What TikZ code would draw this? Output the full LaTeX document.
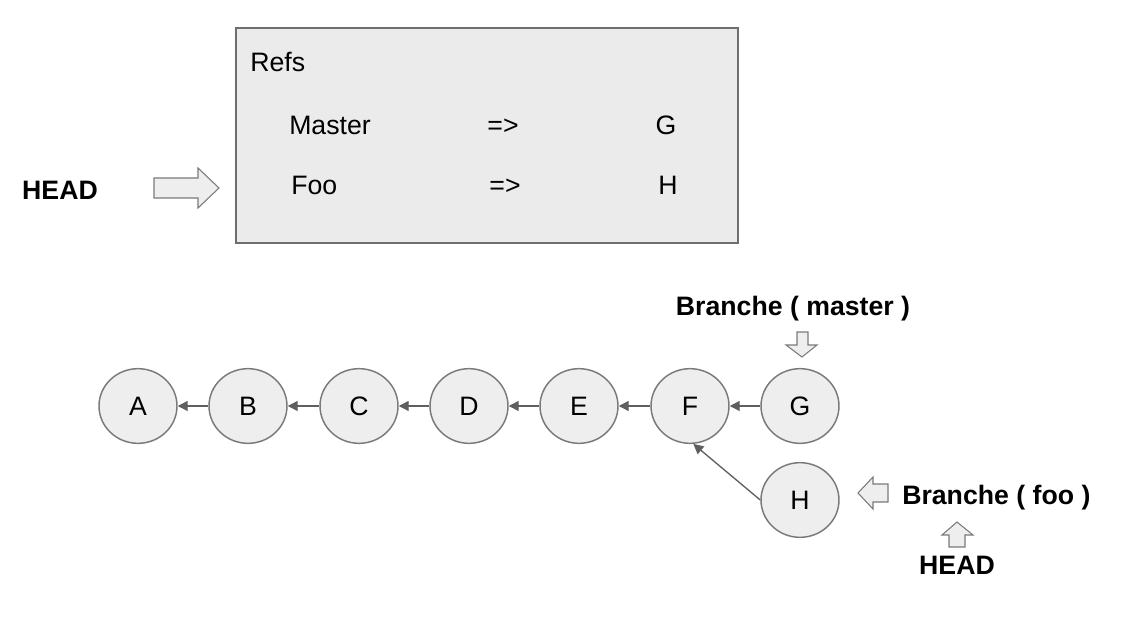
\documentclass[tikz,border=0pt]{standalone}
\usepackage{fontspec}
\setmainfont{Liberation Sans}
\usetikzlibrary{arrows.meta,shapes.geometric}
\definecolor{nodefill}{HTML}{EEEEEE}
\definecolor{nodedraw}{HTML}{7A7A7A}
\definecolor{edgecol}{HTML}{5F5F5F}
\definecolor{boxfill}{HTML}{EBEBEB}
\definecolor{boxdraw}{HTML}{6E6E6E}
\begin{document}
\begin{tikzpicture}[x=0.75pt,y=-0.75pt,
 commit/.style={ellipse, draw=nodedraw, fill=nodefill, line width=1.1pt, minimum width=58.5pt, minimum height=56pt, inner sep=0pt, font=\fontsize{20}{23}\selectfont},
 edge/.style={draw=edgecol, line width=1pt, -{Triangle[length=7.5pt,width=7.5pt]}},
 blockarrow/.style={draw=nodedraw, fill=nodefill, line width=0.8pt, line join=miter},
 lbl/.style={font=\bfseries\fontsize{20}{24}\selectfont, inner sep=0pt, text height=14.5pt, text depth=0pt},
 reftxt/.style={font=\fontsize{20}{24}\selectfont, inner sep=0pt, text height=14.5pt, text depth=0pt}]
\useasboundingbox[fill=white] (0,0) rectangle (1135,627);

% Refs box
\draw[fill=boxfill, draw=boxdraw, line width=0.9pt] (236,28) rectangle (738,243);
\node[reftxt, anchor=west] (refs) at (250,62) {Refs};
\node[reftxt, anchor=west] (master) at (289,125) {Master};
\node[reftxt] (arr1) at (503,125) {=>};
\node[reftxt] (g1) at (666,125) {G};
\node[reftxt, anchor=west] (foo) at (291,185) {Foo};
\node[reftxt] (arr2) at (505,185) {=>};
\node[reftxt] (h1) at (668,185) {H};

% HEAD to Refs
\node[lbl] (head1) at (60,190) {HEAD};
\draw[blockarrow] (154,178) -- (198,178) -- (198,168) -- (219,188) -- (198,208) -- (198,198) -- (154,198) -- cycle;

% commits
\node[commit] (A) at (138,406) {A};
\node[commit] (B) at (248,406) {B};
\node[commit] (C) at (359,406) {C};
\node[commit] (D) at (469,406) {D};
\node[commit] (E) at (579,406) {E};
\node[commit] (F) at (690,406) {F};
\node[commit] (G) at (800,406) {G};
\node[commit] (H) at (800,500) {H};

\draw[edge] (B.west) -- (A.east);
\draw[edge] (C.west) -- (B.east);
\draw[edge] (D.west) -- (C.east);
\draw[edge] (E.west) -- (D.east);
\draw[edge] (F.west) -- (E.east);
\draw[edge] (G.west) -- (F.east);
\draw[edge] (H.west) -- (F.-85);

% branch master
\node[lbl] (bm) at (793,306) {Branche ( master )};
\draw[blockarrow] (797,332) -- (808,332) -- (808,345) -- (817,345) -- (802,357) -- (786,345) -- (797,345) -- cycle;

% branch foo
\node[lbl, anchor=west] (bf) at (902,495) {Branche ( foo )};
\draw[blockarrow] (888,484) -- (873,484) -- (873,477) -- (858,493) -- (873,509) -- (873,502) -- (888,502) -- cycle;

% HEAD to foo
\node[lbl] (head2) at (957,565) {HEAD};
\draw[blockarrow] (949,547) -- (949,535) -- (942,535) -- (957,522) -- (973,535) -- (965,535) -- (965,547) -- cycle;
\end{tikzpicture}
\end{document}
